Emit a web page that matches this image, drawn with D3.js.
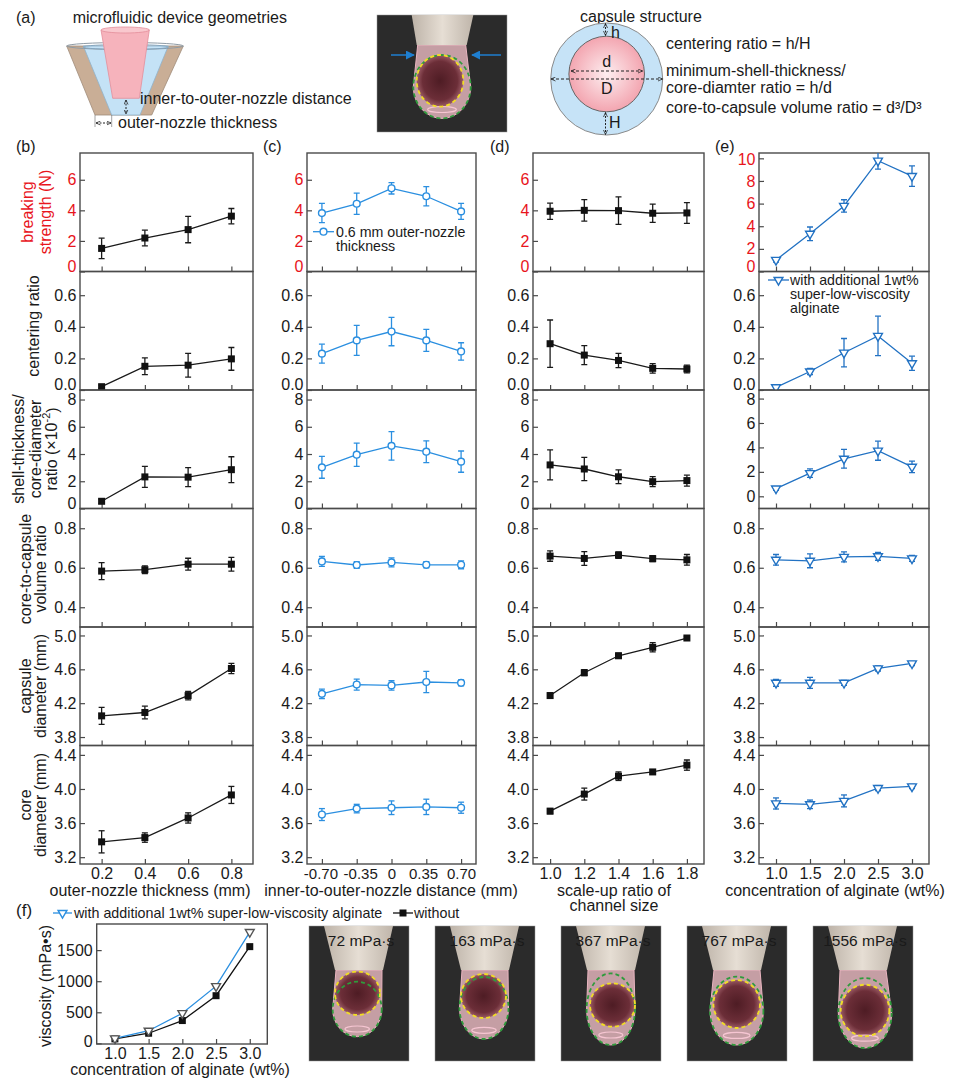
<!DOCTYPE html>
<html><head><meta charset="utf-8">
<script src="https://cdn.jsdelivr.net/npm/d3@7"></script>
<style>
body{margin:0;background:#fff}
text{font-family:"Liberation Sans",Arial,Helvetica,sans-serif;fill:#1a1a1a}
</style>
</head><body>
<svg id="fig" width="955" height="1080"></svg>
<script>
// ---------------- DATA ----------------
const thicknessX = [0.2, 0.4, 0.6, 0.8];
const thicknessLabels = ["0.2", "0.4", "0.6", "0.8"];
const distanceX = [-0.70, -0.35, 0, 0.35, 0.70];
const distanceLabels = ["-0.70", "-0.35", "0", "0.35", "0.70"];
const scaleX = [1.0, 1.2, 1.4, 1.6, 1.8];
const scaleLabels = ["1.0", "1.2", "1.4", "1.6", "1.8"];
const alginateX = [1.0, 1.5, 2.0, 2.5, 3.0];
const alginateLabels = ["1.0", "1.5", "2.0", "2.5", "3.0"];

// (b) outer-nozzle thickness
const strengthB = [1.51, 2.19, 2.74, 3.62], strengthBErr = [0.67, 0.51, 0.86, 0.5];
const centeringB = [0.021, 0.15, 0.157, 0.197], centeringBErr = [0.01, 0.053, 0.075, 0.072];
const shellB = [0.53, 2.32, 2.3, 2.85], shellBErr = [0.15, 0.77, 0.7, 0.95];
const volumeB = [0.583, 0.59, 0.618, 0.618], volumeBErr = [0.043, 0.02, 0.03, 0.035];
const capsuleB = [4.05, 4.09, 4.29, 4.61], capsuleBErr = [0.1, 0.075, 0.05, 0.06];
const coreB = [3.38, 3.43, 3.66, 3.93], coreBErr = [0.13, 0.055, 0.06, 0.1];
// (c) inner-to-outer-nozzle distance
const strengthC = [3.82, 4.43, 5.44, 4.92, 3.93], strengthCErr = [0.63, 0.7, 0.37, 0.63, 0.52];
const centeringC = [0.23, 0.314, 0.37, 0.314, 0.244], centeringCErr = [0.06, 0.095, 0.09, 0.07, 0.055];
const shellC = [3.02, 3.95, 4.6, 4.17, 3.44], shellCErr = [0.8, 0.85, 1.05, 0.8, 0.78];
const volumeC = [0.632, 0.614, 0.627, 0.615, 0.615], volumeCErr = [0.025, 0.017, 0.023, 0.016, 0.02];
const capsuleC = [4.31, 4.42, 4.41, 4.45, 4.44], capsuleCErr = [0.055, 0.065, 0.055, 0.125, 0.035];
const coreC = [3.7, 3.77, 3.78, 3.79, 3.78], coreCErr = [0.07, 0.05, 0.08, 0.09, 0.065];
// (d) scale-up ratio
const strengthD = [3.94, 4.0, 3.98, 3.81, 3.83], strengthDErr = [0.53, 0.7, 0.9, 0.6, 0.68];
const centeringD = [0.293, 0.221, 0.187, 0.137, 0.133], centeringDErr = [0.15, 0.06, 0.045, 0.03, 0.025];
const shellD = [3.2, 2.9, 2.33, 1.97, 2.05], shellDErr = [1.1, 0.85, 0.5, 0.37, 0.4];
const volumeD = [0.659, 0.647, 0.664, 0.646, 0.64], volumeDErr = [0.026, 0.035, 0.016, 0.015, 0.027];
const capsuleD = [4.29, 4.56, 4.76, 4.86, 4.97], capsuleDErr = [0.03, 0.035, 0.03, 0.055, 0.02];
const coreD = [3.74, 3.94, 4.15, 4.2, 4.28], coreDErr = [0.03, 0.07, 0.05, 0.025, 0.06];
// (e) concentration of alginate
const strengthE = [1.02, 3.33, 5.79, 9.79, 8.43], strengthEErr = [0.2, 0.6, 0.55, 0.75, 0.9];
const centeringE = [0.017, 0.117, 0.236, 0.342, 0.169], centeringEErr = [0.01, 0.02, 0.09, 0.125, 0.045];
const shellE = [0.63, 1.89, 3.07, 3.73, 2.41], shellEErr = [0.15, 0.35, 0.77, 0.78, 0.47];
const volumeE = [0.64, 0.635, 0.655, 0.658, 0.647], volumeEErr = [0.027, 0.035, 0.025, 0.02, 0.015];
const capsuleE = [4.44, 4.44, 4.44, 4.61, 4.67], capsuleEErr = [0.04, 0.065, 0.03, 0.03, 0.025];
const coreE = [3.83, 3.82, 3.86, 4.01, 4.03], coreEErr = [0.065, 0.05, 0.07, 0.03, 0.025];
// (f) viscosity
const viscWith = [80, 203, 485, 920, 1790];
const viscWithout = [72, 163, 367, 767, 1556];
const viscTicks = [0, 500, 1000, 1500];

// ---------------- LAYOUT ----------------
const svg = d3.select("#fig");
const defs = svg.append("defs");
const FS = 16;
const blueC = "#2b8fe0", blueE = "#2272c3", red = "#e8141c", ink = "#1a1a1a", frame = "#4a4a4a";
const rowTop = [153, 271.5, 390, 508.5, 627, 745.5, 864];

const rowDefs = [
  {dom: [0, 7.75], ticks: [0, 2, 4, 6], fmt: d3.format("d"), red: true},
  {dom: [0, 0.75], ticks: [0, 0.2, 0.4, 0.6], fmt: d3.format(".1f")},
  {dom: [0, 8.7], ticks: [0, 2, 4, 6, 8], fmt: d3.format("d")},
  {dom: [0.3, 0.9], ticks: [0.4, 0.6, 0.8], fmt: d3.format(".1f")},
  {dom: [3.7, 5.1], ticks: [3.8, 4.2, 4.6, 5.0], fmt: d3.format(".1f")},
  {dom: [3.12, 4.51], ticks: [3.2, 3.6, 4.0, 4.4], fmt: d3.format(".1f")}
];

const panels = [
  {id: "b", x0: 80, x1: 253, xdom: [0.1, 0.9], xs: thicknessX, labels: thicknessLabels, marker: "square", color: ink,
   means: [strengthB, centeringB, shellB, volumeB, capsuleB, coreB],
   errs: [strengthBErr, centeringBErr, shellBErr, volumeBErr, capsuleBErr, coreBErr], tickFs: 16},
  {id: "c", x0: 307, x1: 476, xdom: [-0.85, 0.85], xs: distanceX, labels: distanceLabels, marker: "circle", color: blueC,
   means: [strengthC, centeringC, shellC, volumeC, capsuleC, coreC],
   errs: [strengthCErr, centeringCErr, shellCErr, volumeCErr, capsuleCErr, coreCErr], tickFs: 15,
   labelShift: [-1.5, 3.5, 0, -3.3, 0]},
  {id: "d", x0: 533, x1: 704, xdom: [0.9, 1.9], xs: scaleX, labels: scaleLabels, marker: "square", color: ink,
   means: [strengthD, centeringD, shellD, volumeD, capsuleD, coreD],
   errs: [strengthDErr, centeringDErr, shellDErr, volumeDErr, capsuleDErr, coreDErr], tickFs: 16},
  {id: "e", x0: 759, x1: 929, xdom: [0.75, 3.25], xs: alginateX, labels: alginateLabels, marker: "tri", color: blueE,
   means: [strengthE, centeringE, shellE, volumeE, capsuleE, coreE],
   errs: [strengthEErr, centeringEErr, shellEErr, volumeEErr, capsuleEErr, coreEErr], tickFs: 16,
   override: {0: {dom: [0, 10.47], ticks: [0, 2, 4, 6, 8, 10]}, 2: {dom: [-1.0, 8.7]}}}
];

function drawMarker(sel, type, color) {
  if (type === "square") {
    sel.append("rect").attr("x", -3.5).attr("y", -3.5).attr("width", 7).attr("height", 7).attr("fill", "#111");
  } else if (type === "circle") {
    sel.append("circle").attr("r", 3.4).attr("fill", "#fff").attr("stroke", color).attr("stroke-width", 1.4);
  } else {
    sel.append("path").attr("d", d3.symbol(d3.symbolTriangle, 34)()).attr("transform", "rotate(180)")
      .attr("fill", "#fff").attr("stroke", color).attr("stroke-width", 1.4);
  }
}

panels.forEach((p, pi) => {
  const w = p.x1 - p.x0;
  const x = d3.scaleLinear().domain(p.xdom).range([0, w]);
  rowDefs.forEach((rd0, r) => {
    const rd = Object.assign({}, rd0, (p.override && p.override[r]) || {});
    const h = rowTop[r + 1] - rowTop[r];
    const y = d3.scaleLinear().domain(rd.dom).range([h, 0]);
    const g = svg.append("g").attr("transform", `translate(${p.x0},${rowTop[r]})`);
    const cid = `clip-${p.id}-${r}`;
    defs.append("clipPath").attr("id", cid).append("rect").attr("width", w).attr("height", h);

    // axes
    const ya = g.append("g").call(d3.axisLeft(y).tickValues(rd.ticks).tickSize(-5).tickPadding(3.5).tickFormat(rd.fmt));
    ya.select(".domain").remove();
    ya.selectAll("line").attr("stroke", frame).attr("stroke-width", 1.2);
    ya.selectAll("text").style("font-size", FS + "px").style("fill", rd.red ? red : ink)
      .style("font-family", '"Liberation Sans",Arial,sans-serif')
      .attr("y", d => (y(d) > h - 2 ? -5.5 : (y(d) < 9.2 ? 1.2 : 0)));
    const last = r === rowDefs.length - 1;
    const xa = g.append("g").attr("transform", `translate(0,${h})`)
      .call(d3.axisBottom(x).tickValues(p.xs).tickSize(-5).tickPadding(4)
        .tickFormat((d, i) => last ? p.labels[i] : ""));
    xa.select(".domain").remove();
    xa.selectAll("line").attr("stroke", frame).attr("stroke-width", 1.2);
    xa.selectAll("text").style("font-size", p.tickFs + "px").style("fill", ink)
      .style("font-family", '"Liberation Sans",Arial,sans-serif')
      .attr("x", (d, i) => (p.labelShift ? p.labelShift[i] : 0));

    // frame
    g.append("rect").attr("width", w).attr("height", h).attr("fill", "none")
      .attr("stroke", frame).attr("stroke-width", 1.4);

    // data
    const pts = p.xs.map((xv, i) => ({x: xv, m: p.means[r][i], e: p.errs[r][i]}));
    const dg = g.append("g").attr("clip-path", `url(#${cid})`);
    dg.append("path").datum(pts)
      .attr("d", d3.line().x(d => x(d.x)).y(d => y(d.m)))
      .attr("fill", "none").attr("stroke", p.color).attr("stroke-width", 1.3);
    const eb = dg.selectAll(".eb").data(pts).join("g").attr("class", "eb");
    eb.append("line").attr("x1", d => x(d.x)).attr("x2", d => x(d.x))
      .attr("y1", d => y(d.m - d.e)).attr("y2", d => y(d.m + d.e))
      .attr("stroke", p.color).attr("stroke-width", 1.3);
    [-1, 1].forEach(s => {
      eb.append("line").attr("x1", d => x(d.x) - 3).attr("x2", d => x(d.x) + 3)
        .attr("y1", d => y(d.m + s * d.e)).attr("y2", d => y(d.m + s * d.e))
        .attr("stroke", p.color).attr("stroke-width", 1.3);
    });
    dg.selectAll(".mk").data(pts).join("g").attr("class", "mk")
      .attr("transform", d => `translate(${x(d.x)},${y(d.m)})`)
      .each(function () { drawMarker(d3.select(this), p.marker, p.color); });
  });
});

// ---------- text helpers ----------
function txt(x, y, s, opt = {}) {
  const t = svg.append("text").attr("x", x).attr("y", y).attr("dominant-baseline", "central")
    .style("font-size", (opt.fs || FS) + "px").attr("text-anchor", opt.anchor || "start").text(s);
  if (opt.fill) t.style("fill", opt.fill);
  return t;
}
function vtxt(x, y, s, opt = {}) {
  const t = svg.append("text").attr("transform", `translate(${x},${y}) rotate(-90)`)
    .attr("dominant-baseline", "central").attr("text-anchor", "middle")
    .style("font-size", (opt.fs || FS) + "px").text(s);
  if (opt.fill) t.style("fill", opt.fill);
  return t;
}

// panel letters
txt(16, 146, "(b)"); txt(263, 146, "(c)"); txt(490, 146, "(d)"); txt(715, 146, "(e)");

// y titles (column b)
vtxt(27, 212, "breaking", {fill: red}); vtxt(45, 212, "strength (N)", {fill: red});
vtxt(33, 326, "centering ratio");
vtxt(18.5, 449, "shell-thickness/"); vtxt(35, 449, "core-diameter");
const rt = vtxt(51.5, 449, "ratio (×10");
rt.append("tspan").attr("baseline-shift", "super").style("font-size", "11px").text("-2");
rt.append("tspan").text(")");
vtxt(25, 569, "core-to-capsule"); vtxt(40, 569, "volume ratio");
vtxt(25, 686, "capsule"); vtxt(40, 686, "diameter (mm)");
vtxt(25, 805, "core"); vtxt(40, 805, "diameter (mm)");

// x titles
txt(150, 890, "outer-nozzle thickness (mm)", {anchor: "middle"});
txt(391, 890, "inner-to-outer-nozzle distance (mm)", {anchor: "middle"});
txt(614, 890, "scale-up ratio of", {anchor: "middle"});
txt(614, 905, "channel size", {anchor: "middle"});
txt(835, 890, "concentration of alginate (wt%)", {anchor: "middle"});

// legends in c and e
(function () {
  const lg = svg.append("g").attr("transform", "translate(313,231.7)");
  lg.append("line").attr("x1", 0).attr("x2", 21).attr("stroke", blueC).attr("stroke-width", 1.3);
  drawMarker(lg.append("g").attr("transform", "translate(10.5,0)"), "circle", blueC);
  txt(336, 231.7, "0.6 mm outer-nozzle", {fs: 14.2});
  txt(336, 246, "thickness", {fs: 14.2});
  const le = svg.append("g").attr("transform", "translate(768,280)");
  le.append("line").attr("x1", 0).attr("x2", 21).attr("stroke", blueE).attr("stroke-width", 1.3);
  drawMarker(le.append("g").attr("transform", "translate(10.5,0)"), "tri", blueE);
  txt(790, 279.5, "with additional 1wt%", {fs: 14.2});
  txt(790, 293.5, "super-low-viscosity", {fs: 14.2});
  txt(790, 307.5, "alginate", {fs: 14.2});
})();

// ---------- (f) viscosity chart ----------
(function () {
  const X0 = 96.7, X1 = 267.3, Y0 = 924, Y1 = 1044;
  const w = X1 - X0, h = Y1 - Y0;
  const x = d3.scaleLinear().domain([0.73, 3.26]).range([0, w]);
  const y = d3.scaleLinear().domain([-10, 1920]).range([h, 0]);
  const g = svg.append("g").attr("transform", `translate(${X0},${Y0})`);
  const ya = g.append("g").call(d3.axisLeft(y).tickValues(viscTicks).tickSize(-5).tickPadding(4).tickFormat(d3.format("d")));
  ya.select(".domain").remove();
  ya.selectAll("line").attr("stroke", frame).attr("stroke-width", 1.2);
  ya.selectAll("text").style("font-size", FS + "px").style("fill", ink).style("font-family", '"Liberation Sans",Arial,sans-serif')
    .attr("y", d => (d === 0 ? -2 : 0));
  const xa = g.append("g").attr("transform", `translate(0,${h})`)
    .call(d3.axisBottom(x).tickValues(alginateX).tickSize(-5).tickPadding(3.5).tickFormat((d, i) => alginateLabels[i]));
  xa.select(".domain").remove();
  xa.selectAll("line").attr("stroke", frame).attr("stroke-width", 1.2);
  xa.selectAll("text").style("font-size", FS + "px").style("fill", ink).style("font-family", '"Liberation Sans",Arial,sans-serif');
  g.append("rect").attr("width", w).attr("height", h).attr("fill", "none").attr("stroke", frame).attr("stroke-width", 1.4);
  const series = [
    {vals: viscWithout, color: "#111", marker: "square"},
    {vals: viscWith, color: blueC, marker: "tri"}
  ];
  series.forEach(s => {
    const pts = alginateX.map((xv, i) => ({x: xv, v: s.vals[i]}));
    g.append("path").datum(pts).attr("d", d3.line().x(d => x(d.x)).y(d => y(d.v)))
      .attr("fill", "none").attr("stroke", s.color).attr("stroke-width", 1.3);
    g.selectAll(null).data(pts).join("g").attr("transform", d => `translate(${x(d.x)},${y(d.v)})`)
      .each(function () { drawMarker(d3.select(this), s.marker, s.color === "#111" ? "#111" : "#555"); });
  });
  vtxt(45, 986, "viscosity (mPa•s)");
  txt(180, 1069, "concentration of alginate (wt%)", {anchor: "middle"});
  txt(16, 910, "(f)", {fs: 17});
  // legend
  const l1 = svg.append("g").attr("transform", "translate(53,913)");
  l1.append("line").attr("x1", 0).attr("x2", 19).attr("stroke", blueC).attr("stroke-width", 1.3);
  drawMarker(l1.append("g").attr("transform", "translate(9.5,0)"), "tri", blueC);
  txt(74, 913, "with additional 1wt% super-low-viscosity alginate", {fs: 14.3});
  const l2 = svg.append("g").attr("transform", "translate(393,913)");
  l2.append("line").attr("x1", 0).attr("x2", 20).attr("stroke", "#111").attr("stroke-width", 1.3);
  drawMarker(l2.append("g").attr("transform", "translate(10,0)"), "square", "#111");
  txt(414, 913, "without", {fs: 14.3});
})();

// ---------- photo illustrations ----------
const ng = defs.append("linearGradient").attr("id", "nozzleG").attr("x1", 0).attr("x2", 1);
ng.append("stop").attr("offset", "0").attr("stop-color", "#bdb3a8");
ng.append("stop").attr("offset", "0.5").attr("stop-color", "#e6ded4");
ng.append("stop").attr("offset", "1").attr("stop-color", "#bfb5aa");
const cg = defs.append("radialGradient").attr("id", "coreG");
cg.append("stop").attr("offset", "0").attr("stop-color", "#4e1c24");
cg.append("stop").attr("offset", "0.75").attr("stop-color", "#6c2e38");
cg.append("stop").attr("offset", "1").attr("stop-color", "#9a5a64");
const pg = defs.append("radialGradient").attr("id", "pinkG");
pg.append("stop").attr("offset", "0").attr("stop-color", "#fdeef0");
pg.append("stop").attr("offset", "1").attr("stop-color", "#f3a5b0");
defs.append("marker").attr("id", "ah").attr("viewBox", "0 0 10 10").attr("refX", 9).attr("refY", 5)
  .attr("markerWidth", 5).attr("markerHeight", 5).attr("orient", "auto-start-reverse")
  .append("path").attr("d", "M0,1 L9,5 L0,9").attr("fill", "none").attr("stroke", "#222").attr("stroke-width", 1.5);
defs.append("marker").attr("id", "ahb").attr("viewBox", "0 0 10 10").attr("refX", 9).attr("refY", 5)
  .attr("markerWidth", 6).attr("markerHeight", 6).attr("orient", "auto")
  .append("path").attr("d", "M0,0 L10,5 L0,10 Z").attr("fill", "#1f7fd0");

function drawPhoto(x0, y0, W, H, o) {
  const p = svg.append("g").attr("transform", `translate(${x0},${y0})`);
  p.append("rect").attr("width", W).attr("height", H).attr("fill", "#2b2b2b").attr("stroke", "#999").attr("stroke-width", 0.5);
  p.append("path").attr("d",
    `M${o.nl + 1},${o.nb} L${o.gcx - o.grx},${o.gcy} A${o.grx},${o.gry} 0 0 0 ${o.gcx + o.grx},${o.gcy} L${o.nr - 1},${o.nb} Z`)
    .attr("fill", "#c59ea4").attr("stroke", "#e9b5c0").attr("stroke-width", 1);
  p.append("ellipse").attr("cx", o.ycx).attr("cy", o.ycy).attr("rx", o.yrx).attr("ry", o.yry).attr("fill", "url(#coreG)");
  p.append("ellipse").attr("cx", o.gcx).attr("cy", o.gcy + o.gry * 0.72).attr("rx", o.grx * 0.5).attr("ry", 3)
    .attr("fill", "none").attr("stroke", "#f6c6d2").attr("stroke-width", 1.2);
  p.append("path").attr("d", `M${o.tl},0 L${o.tr},0 L${o.nr},${o.nb} L${o.nl},${o.nb} Z`).attr("fill", "url(#nozzleG)");
  p.append("ellipse").attr("cx", o.gcx).attr("cy", o.gcy).attr("rx", o.grx).attr("ry", o.gry)
    .attr("fill", "none").attr("stroke", "#2f9b3c").attr("stroke-width", 1.8).attr("stroke-dasharray", "4 3");
  p.append("ellipse").attr("cx", o.ycx).attr("cy", o.ycy).attr("rx", o.yrx).attr("ry", o.yry)
    .attr("fill", "none").attr("stroke", "#f1dd24").attr("stroke-width", 1.8).attr("stroke-dasharray", "4 3");
  return p;
}

// (a) photo
const pa = drawPhoto(377, 15, 130, 117, {tl: 34.7, tr: 96.3, nl: 39.7, nr: 89.7, nb: 30,
  gcx: 65, gcy: 71.7, grx: 28.7, gry: 31.7, ycx: 63, ycy: 65.8, yrx: 23.3, yry: 25.8});
pa.append("line").attr("x1", 14).attr("y1", 40).attr("x2", 37).attr("y2", 40).attr("stroke", "#1f7fd0").attr("stroke-width", 1.5).attr("marker-end", "url(#ahb)");
pa.append("line").attr("x1", 124).attr("y1", 40).attr("x2", 95).attr("y2", 40).attr("stroke", "#1f7fd0").attr("stroke-width", 1.5).attr("marker-end", "url(#ahb)");

// (f) photos
const photoShapes = [
  {gcx: 48.2, gcy: 83.2, grx: 24.5, gry: 27.5, ycx: 48.5, ycy: 67.3, yrx: 22.5, yry: 21.7},
  {gcx: 49, gcy: 82, grx: 24.5, gry: 31, ycx: 48.5, ycy: 70, yrx: 22.5, yry: 22},
  {gcx: 49.8, gcy: 83.2, grx: 24.2, gry: 35.8, ycx: 51.5, ycy: 79, yrx: 22.5, yry: 21.7},
  {gcx: 49.7, gcy: 84.8, grx: 26.7, gry: 34.2, ycx: 49.7, ycy: 78, yrx: 23.3, yry: 24},
  {gcx: 52, gcy: 87, grx: 26.7, gry: 35, ycx: 52, ycy: 84.5, yrx: 24.3, yry: 25.8}
];
viscWithout.forEach((v, i) => {
  const x0 = 309 + 126 * i;
  drawPhoto(x0, 926, 100, 135, Object.assign({tl: 15, tr: 84, nl: 26, nr: 74, nb: 44}, photoShapes[i]));
  txt(x0 + 52, 940, `${v} mPa·s`, {anchor: "middle", fs: 15.5});
});

// ---------- (a) schematics ----------
txt(16, 17, "(a)");
txt(72.7, 17, "microfluidic device geometries");
const sg = svg.append("g");
sg.append("path").attr("d", "M66.7,46 L183.3,46 L151.7,115 L95,115 Z").attr("fill", "#c9ae96").attr("stroke", "#a08c7a").attr("stroke-width", 0.8);
sg.append("path").attr("d", "M83.3,46 L168.3,46 L140,115 L111.7,115 Z").attr("fill", "#c4e2f6").attr("stroke", "#8fb3cc").attr("stroke-width", 0.8);
sg.append("ellipse").attr("cx", 125).attr("cy", 46).attr("rx", 58.3).attr("ry", 3.5).attr("fill", "none").attr("stroke", "#8f9ba5").attr("stroke-width", 1);
sg.append("ellipse").attr("cx", 125.8).attr("cy", 47).attr("rx", 42.5).attr("ry", 2.5).attr("fill", "none").attr("stroke", "#7fa4bf").attr("stroke-width", 0.9);
sg.append("path").attr("d", "M101,30 L149.3,30 L139.3,98.3 L112.7,98.3 Z").attr("fill", "#f6b3bc").attr("stroke", "#e38e9b").attr("stroke-width", 0.8);
sg.append("ellipse").attr("cx", 125.2).attr("cy", 30).attr("rx", 24.2).attr("ry", 3).attr("fill", "#f9c8ce").attr("stroke", "#e38e9b").attr("stroke-width", 0.8);
sg.append("line").attr("x1", 126).attr("y1", 100).attr("x2", 126).attr("y2", 114).attr("stroke", "#222").attr("stroke-width", 1)
  .attr("stroke-dasharray", "2 1.5").attr("marker-start", "url(#ah)").attr("marker-end", "url(#ah)");
sg.append("line").attr("x1", 96).attr("y1", 123).attr("x2", 111).attr("y2", 123).attr("stroke", "#222").attr("stroke-width", 1)
  .attr("stroke-dasharray", "2 1.5").attr("marker-start", "url(#ah)").attr("marker-end", "url(#ah)");
sg.append("line").attr("x1", 95).attr("y1", 115).attr("x2", 95).attr("y2", 127).attr("stroke", "#666").attr("stroke-width", 0.6);
sg.append("line").attr("x1", 111.7).attr("y1", 115).attr("x2", 111.7).attr("y2", 127).attr("stroke", "#666").attr("stroke-width", 0.6);
txt(140, 98, "inner-to-outer-nozzle distance");
txt(118, 122.7, "outer-nozzle thickness");

// capsule structure
txt(580, 16, "capsule structure");
const cs = svg.append("g");
cs.append("circle").attr("cx", 606.7).attr("cy", 79).attr("r", 56).attr("fill", "#c6e3f7").attr("stroke", "#8a8a8a").attr("stroke-width", 1);
cs.append("circle").attr("cx", 606.7).attr("cy", 74).attr("r", 37.8).attr("fill", "url(#pinkG)").attr("stroke", "#666").attr("stroke-width", 1);
cs.append("line").attr("x1", 571).attr("y1", 71).attr("x2", 642.5).attr("y2", 71).attr("stroke", "#222").attr("stroke-width", 1)
  .attr("stroke-dasharray", "3 2").attr("marker-start", "url(#ah)").attr("marker-end", "url(#ah)");
cs.append("line").attr("x1", 551).attr("y1", 79).attr("x2", 662.5).attr("y2", 79).attr("stroke", "#222").attr("stroke-width", 1)
  .attr("stroke-dasharray", "3 2").attr("marker-start", "url(#ah)").attr("marker-end", "url(#ah)");
cs.append("line").attr("x1", 605.5).attr("y1", 23.5).attr("x2", 605.5).attr("y2", 35.5).attr("stroke", "#222").attr("stroke-width", 1)
  .attr("stroke-dasharray", "2 1.5").attr("marker-start", "url(#ah)").attr("marker-end", "url(#ah)");
cs.append("line").attr("x1", 605.5).attr("y1", 112.5).attr("x2", 605.5).attr("y2", 134.5).attr("stroke", "#222").attr("stroke-width", 1)
  .attr("stroke-dasharray", "2 1.5").attr("marker-start", "url(#ah)").attr("marker-end", "url(#ah)");
txt(611, 32.5, "h");
txt(606.7, 61.5, "d", {anchor: "middle"});
txt(606.7, 88.5, "D", {anchor: "middle"});
txt(609, 122, "H");
txt(666, 43.3, "centering ratio = h/H");
txt(666, 70, "minimum-shell-thickness/");
txt(666, 87.3, "core-diamter ratio = h/d");
txt(666, 107.3, "core-to-capsule volume ratio = d³/D³");
</script>
</body></html>
